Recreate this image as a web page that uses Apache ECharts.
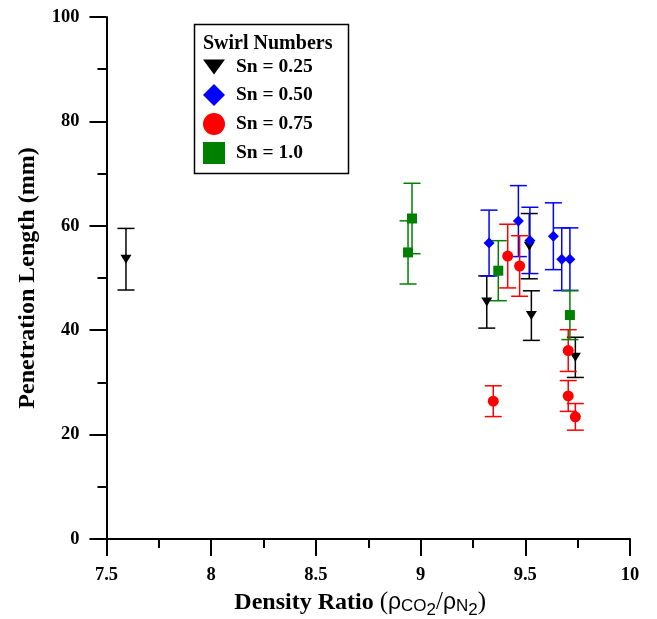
<!DOCTYPE html>
<html>
<head>
<meta charset="utf-8">
<script src="https://cdn.jsdelivr.net/npm/echarts@6/dist/echarts.min.js"></script>
<style>html,body{margin:0;padding:0;background:#fff}#c{width:657px;height:619px}</style>
</head>
<body>
<div id="c"></div>
<script>
// Sn = 0.25
var sn025X = [7.593, 9.316, 9.519, 9.529, 9.739];
var sn025Y = [53.6, 45.4, 56.1, 42.8, 34.8];
var sn025Err = [5.9, 5.0, 6.25, 4.75, 3.85];
// Sn = 0.50
var sn050X = [9.327, 9.467, 9.522, 9.634, 9.674, 9.713];
var sn050Y = [56.7, 60.9, 57.2, 58.0, 53.6, 53.6];
var sn050Err = [6.3, 6.8, 6.35, 6.4, 6.0, 6.0];
// Sn = 0.75
var sn075X = [9.416, 9.473, 9.347, 9.705, 9.705, 9.739];
var sn075Y = [54.2, 52.3, 26.4, 36.1, 27.4, 23.4];
var sn075Err = [6.1, 5.8, 2.95, 4.0, 2.95, 2.55];
// Sn = 1.0
var sn100X = [8.940, 8.959, 9.371, 9.713];
var sn100Y = [54.9, 61.4, 51.4, 42.9];
var sn100Err = [6.05, 6.75, 5.75, 4.7];

var xTicks = [7.5, 8, 8.5, 9, 9.5, 10];
var yTicks = [0, 20, 40, 60, 80, 100];

var names = ['Sn = 0.25', 'Sn = 0.50', 'Sn = 0.75', 'Sn = 1.0'];
var colors = ['#000000', '#0000ff', '#ff0000', '#008000'];
var triPath = 'path://M0,0L20,0L10,14Z';
var symbols = [triPath, 'diamond', 'circle', 'rect'];
var symSizes = [[11, 9], [11, 11], [11, 11], [10, 10]];

function pts(xs, ys) { return xs.map(function (x, i) { return [x, ys[i]]; }); }
function errs(xs, ys, es) { return xs.map(function (x, i) { return [x, ys[i] - es[i], ys[i] + es[i]]; }); }

var groups = [
  [sn025X, sn025Y, sn025Err],
  [sn050X, sn050Y, sn050Err],
  [sn075X, sn075Y, sn075Err],
  [sn100X, sn100Y, sn100Err]
];

function makeErr(color) {
  return function (params, api) {
    var x = api.value(0), lo = api.value(1), hi = api.value(2);
    var p1 = api.coord([x, hi]), p2 = api.coord([x, lo]);
    var w = 8.5;
    var st = { stroke: color, lineWidth: 1.5 };
    return {
      type: 'group',
      children: [
        { type: 'line', shape: { x1: p1[0], y1: p1[1], x2: p2[0], y2: p2[1] }, style: st },
        { type: 'line', shape: { x1: p1[0] - w, y1: p1[1], x2: p1[0] + w, y2: p1[1] }, style: st },
        { type: 'line', shape: { x1: p2[0] - w, y1: p2[1], x2: p2[0] + w, y2: p2[1] }, style: st }
      ]
    };
  };
}

var series = [];
groups.forEach(function (g, i) {
  series.push({
    type: 'custom',
    name: names[i] + ' err',
    renderItem: makeErr(colors[i]),
    data: errs(g[0], g[1], g[2]),
    encode: { x: 0, y: [1, 2] },
    z: 2,
    silent: true
  });
});
groups.forEach(function (g, i) {
  series.push({
    type: 'scatter',
    name: names[i],
    symbol: symbols[i],
    symbolSize: symSizes[i],
    itemStyle: { color: colors[i], opacity: 1 },
    data: pts(g[0], g[1]),
    z: 5
  });
});

var labelFont = { fontFamily: 'Liberation Serif', fontWeight: 'bold', fontSize: 18.5, color: '#000' };

var chart = echarts.init(document.getElementById('c'), null, { renderer: 'canvas' });
chart.setOption({
  backgroundColor: '#fff',
  animation: false,
  color: colors,
  grid: { left: 106.5, right: 27, top: 17, bottom: 80, containLabel: false, outerBoundsMode: 'none' },
  xAxis: {
    type: 'value',
    min: xTicks[0], max: xTicks[xTicks.length - 1], interval: 0.5,
    axisLine: { lineStyle: { color: '#000', width: 2 } },
    axisTick: { inside: false, length: 17, lineStyle: { color: '#000', width: 2 } },
    minorTick: { show: true, splitNumber: 2, length: 9, lineStyle: { color: '#000', width: 2 } },
    splitLine: { show: false },
    axisLabel: Object.assign({ margin: 27 }, labelFont),
    name: '{b|Density Ratio }{n|(}{r|ρ}{s|CO}{ss|2}{n|/}{r|ρ}{s|N}{ss|2}{n|)}',
    nameLocation: 'middle',
    nameGap: 44,
    nameTextStyle: {
      padding: [0, 16, 0, 0],
      rich: {
        b: { fontFamily: 'Liberation Serif', fontWeight: 'bold', fontSize: 24, color: '#000' },
        n: { fontFamily: 'Liberation Serif', fontSize: 25, color: '#000' },
        r: { fontFamily: 'Liberation Sans', fontSize: 23, color: '#000' },
        s: { fontFamily: 'Liberation Sans', fontSize: 17, color: '#000', padding: [8, 0, 0, 0] },
        ss: { fontFamily: 'Liberation Sans', fontSize: 17, color: '#000', padding: [15, 0, 0, 0] }
      }
    }
  },
  yAxis: {
    type: 'value',
    min: yTicks[0], max: yTicks[yTicks.length - 1], interval: 20,
    axisLine: { lineStyle: { color: '#000', width: 2 } },
    axisTick: { inside: false, length: 17, lineStyle: { color: '#000', width: 2 } },
    minorTick: { show: true, splitNumber: 2, length: 9, lineStyle: { color: '#000', width: 2 } },
    splitLine: { show: false },
    axisLabel: Object.assign({ margin: 27 }, labelFont),
    name: 'Penetration Length (mm)',
    nameLocation: 'middle',
    nameGap: 67,
    nameTextStyle: { fontFamily: 'Liberation Serif', fontWeight: 'bold', fontSize: 24, color: '#000' }
  },
  legend: {
    orient: 'vertical',
    left: 203,
    top: 57,
    padding: 0,
    itemWidth: 22,
    itemHeight: 22,
    itemGap: 7,
    selectedMode: false,
    textStyle: { fontFamily: 'Liberation Serif', fontWeight: 'bold', fontSize: 19.5, color: '#000', padding: [0, 0, 0, 6] },
    data: [
      { name: names[0], icon: 'path://M0,0L22,0L11,15Z' },
      { name: names[1], icon: 'diamond' },
      { name: names[2], icon: 'circle' },
      { name: names[3], icon: 'rect' }
    ]
  },
  graphic: [
    { type: 'rect', left: 192, top: 22, shape: { width: 154, height: 149 }, style: { fill: 'none', stroke: '#000', lineWidth: 1.5 }, z: 10 },
    { type: 'text', left: 203, top: 34, style: { text: 'Swirl Numbers', font: 'bold 20px "Liberation Serif"', fill: '#000' }, z: 10 }
  ],
  series: series
});
</script>
</body>
</html>
